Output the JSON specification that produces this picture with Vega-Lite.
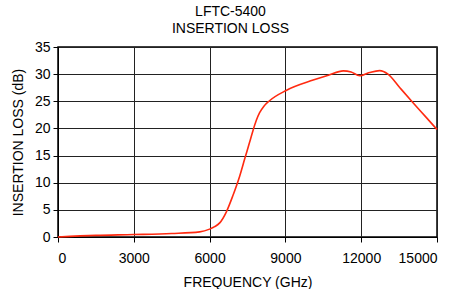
{
  "$schema": "https://vega.github.io/schema/vega-lite/v6.json",
  "width": 379,
  "height": 190,
  "autosize": "none",
  "padding": {"left": 58, "top": 47, "right": 19, "bottom": 52},
  "background": "white",
  "title": {
    "text": ["LFTC-5400", "INSERTION LOSS"],
    "font": "Liberation Sans",
    "fontSize": 14,
    "fontWeight": "normal",
    "color": "black",
    "lineHeight": 17,
    "anchor": "middle",
    "dx": -17,
    "offset": 4
  },
  "config": {
    "view": {"stroke": "black", "strokeWidth": 1.5},
    "axis": {
      "labelFont": "Liberation Sans",
      "titleFont": "Liberation Sans",
      "labelFontSize": 14,
      "titleFontSize": 14,
      "titleFontWeight": "normal",
      "labelColor": "black",
      "titleColor": "black",
      "gridColor": "#222",
      "gridOpacity": 1,
      "gridWidth": 1,
      "domainColor": "black",
      "tickColor": "black",
      "tickSize": 5
    }
  },
  "data": {
    "values": [
      {"f": 0, "il": 0.0},
      {"f": 1500, "il": 0.3},
      {"f": 3000, "il": 0.45},
      {"f": 4500, "il": 0.65},
      {"f": 5610, "il": 0.95},
      {"f": 6000, "il": 1.45},
      {"f": 6200, "il": 1.9},
      {"f": 6400, "il": 2.6},
      {"f": 6660, "il": 4.6},
      {"f": 6920, "il": 7.6},
      {"f": 7190, "il": 11.2},
      {"f": 7390, "il": 14.4},
      {"f": 7580, "il": 17.4},
      {"f": 7710, "il": 19.5},
      {"f": 7850, "il": 21.5},
      {"f": 7980, "il": 22.9},
      {"f": 8150, "il": 24.1},
      {"f": 8370, "il": 25.1},
      {"f": 9030, "il": 27.0},
      {"f": 10100, "il": 28.9},
      {"f": 10700, "il": 29.8},
      {"f": 11290, "il": 30.6},
      {"f": 11600, "il": 30.4},
      {"f": 11940, "il": 29.7},
      {"f": 12330, "il": 30.3},
      {"f": 12730, "il": 30.65},
      {"f": 13060, "il": 30.0},
      {"f": 13530, "il": 27.5},
      {"f": 14060, "il": 24.7},
      {"f": 14590, "il": 21.95},
      {"f": 15000, "il": 19.8}
    ]
  },
  "mark": {"type": "line", "color": "#ff2a10", "strokeWidth": 1.6, "interpolate": "monotone"},
  "encoding": {
    "x": {
      "field": "f",
      "type": "quantitative",
      "scale": {"domain": [0, 15000], "nice": false},
      "axis": {"values": [0, 3000, 6000, 9000, 12000, 15000], "format": "d", "title": "FREQUENCY (GHz)", "labelPadding": 9, "titlePadding": 10}
    },
    "y": {
      "field": "il",
      "type": "quantitative",
      "scale": {"domain": [0, 35], "nice": false},
      "axis": {"values": [0, 5, 10, 15, 20, 25, 30, 35], "title": "INSERTION LOSS (dB)", "labelPadding": 3, "titlePadding": 9}
    }
  }
}
